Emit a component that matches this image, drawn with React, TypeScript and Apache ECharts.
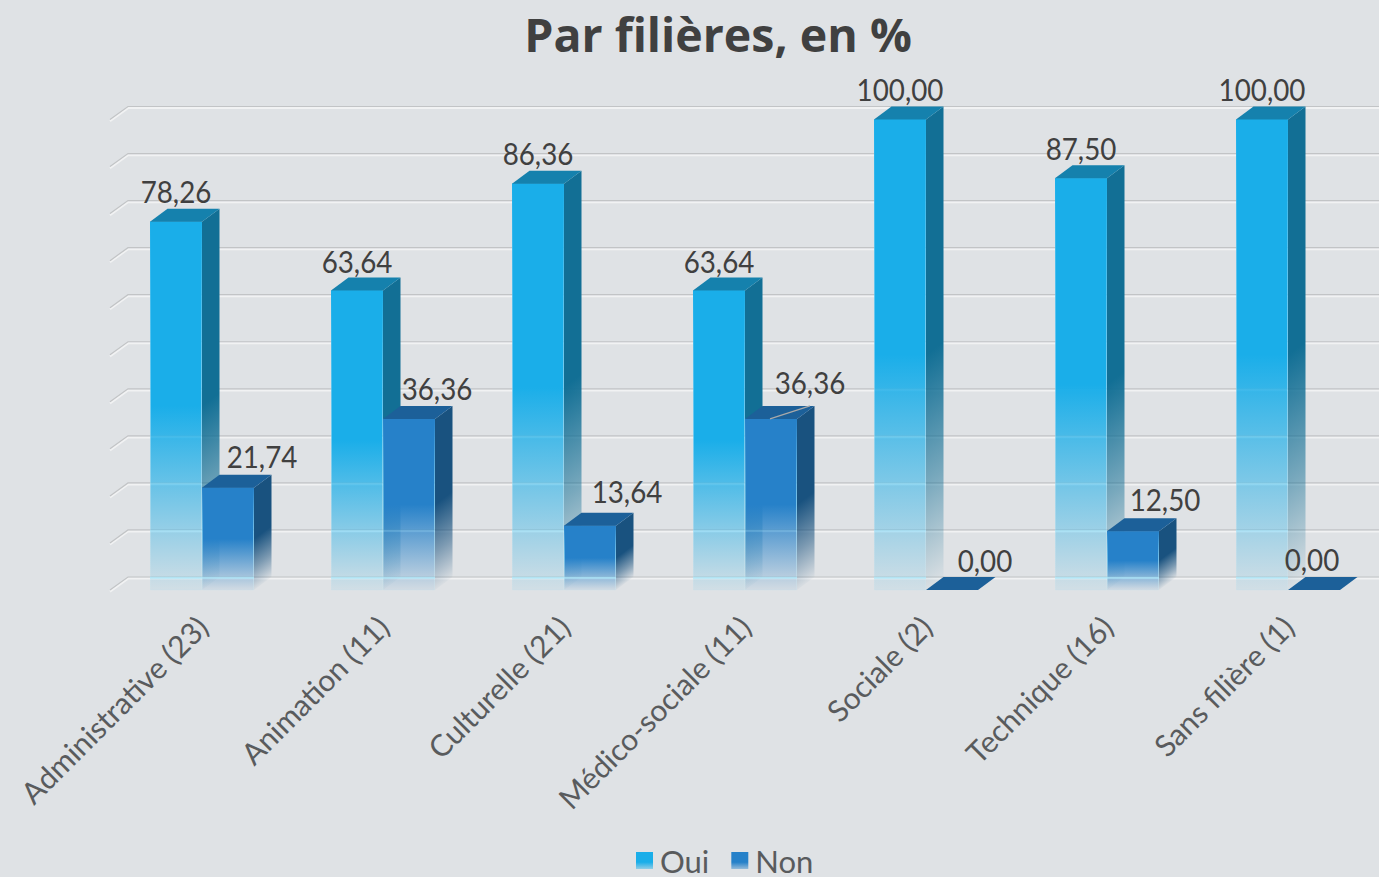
import React, { useEffect, useRef } from "react";
import * as echarts from "echarts";

const categories = ["Administrative (23)", "Animation (11)", "Culturelle (21)", "Médico-sociale (11)", "Sociale (2)", "Technique (16)", "Sans filière (1)"];
const ouiValues = [78.26, 63.64, 86.36, 63.64, 100, 87.5, 100];
const nonValues = [21.74, 36.36, 13.64, 36.36, 0, 12.5, 0];
const gridValues = [0, 10, 20, 30, 40, 50, 60, 70, 80, 90, 100];

// layout of the value labels relative to the top of the front face: [dx, dy]
const ouiLabelOffsets = [[0, -31], [0, -30], [0, -31], [0, -30], [0, -31], [0, -30], [0, -31]];
const nonLabelOffsets = [[34, -32], [28, -31], [37, -35], [39, -37], [33, -30], [32, -32], [-2, -31]];

const BAR_W = 52;
const DX = 17.5;
const DY = 13;

const hex = (c: string, a: number) => {
  const n = parseInt(c.slice(1), 16);
  return `rgba(${n >> 16},${(n >> 8) & 255},${n & 255},${a})`;
};
const fade = (c: string, end: number, mid = 0.5) =>
  new echarts.graphic.LinearGradient(0, 0, 0, 1, [
    { offset: 0, color: hex(c, 1) },
    { offset: mid, color: hex(c, 1) },
    { offset: 1, color: hex(c, end) },
  ]);

function barRenderer(front: string, side: string, top: string, xShift: number, offsets: number[][], leader: number) {
  return (params: any, api: any) => {
    const i = api.value(0);
    const v = api.value(1);
    const [cx, yTop] = api.coord([i, v]);
    const [, yBot] = api.coord([i, 0]);
    const x0 = cx + xShift;
    const x1 = x0 + BAR_W;
    const children: any[] = [];
    if (yBot - yTop > 0.5) {
      // the side face fades along the slant of its own bottom edge
      const mid0 = (yTop + yBot) / 2;
      const norm = Math.hypot(DX, DY);
      const nx = DY / norm;
      const ny = DX / norm;
      const reach = (yBot - mid0) * ny;
      children.push({
        type: "polygon",
        shape: { points: [[x1, yTop], [x1 + DX, yTop - DY], [x1 + DX, yBot - DY], [x1, yBot]] },
        style: {
          fill: new echarts.graphic.LinearGradient(
            x1,
            mid0,
            x1 + reach * nx,
            mid0 + reach * ny,
            [
              { offset: 0, color: hex(side, 1) },
              { offset: 0.55, color: hex(side, 0.5) },
              { offset: 1, color: hex(side, 0.03) },
            ],
            true
          ),
        },
      });
      children.push({
        type: "rect",
        shape: { x: x0 + 0.5, y: yTop, width: BAR_W - 1, height: yBot - yTop },
        style: {
          fill: fade(front, 0.07),
          stroke: new echarts.graphic.LinearGradient(0, 0, 0, 1, [
            { offset: 0, color: hex(front, 1) },
            { offset: 0.5, color: "rgba(110,205,245,0.55)" },
            { offset: 1, color: "rgba(150,220,245,0.1)" },
          ]),
          lineWidth: 1,
        },
      });
      // gridlines glowing through the faded lower half of the face
      const mid = (yTop + yBot) / 2;
      gridValues.forEach((g) => {
        const yLine = api.coord([i, g])[1] - DY;
        if (yLine > mid && yLine < yBot) {
          const a = 0.75 * Math.min(1, (yLine - mid) / (yBot - DY - mid));
          children.push({
            type: "line",
            shape: { x1: x0, y1: yLine + 0.7, x2: x1, y2: yLine + 0.7 },
            style: { stroke: `rgba(175,232,250,${a})`, lineWidth: 2 },
          });
        }
      });
    }
    children.push({
      type: "polygon",
      shape: { points: [[x0, yTop], [x0 + DX, yTop - DY], [x1 + DX, yTop - DY], [x1, yTop]] },
      style: { fill: top },
    });
    const off = offsets[i];
    if (i === leader) {
      children.push({
        type: "line",
        shape: { x1: x0 + 25, y1: yTop, x2: x0 + 65, y2: yTop - 13 },
        style: { stroke: "#a9a9a9", lineWidth: 1.2 },
      });
    }
    children.push({
      type: "text",
      x: x0 + BAR_W / 2 + off[0],
      y: yTop + off[1],
      scaleX: 0.896,
      style: {
        text: v.toFixed(2).replace(".", ","),
        fill: "#404040",
        font: "31px Lato",
        align: "center",
        verticalAlign: "middle",
      },
    });
    return { type: "group", children };
  };
}

function gridRenderer(params: any, api: any) {
  const [, y] = api.coord([0, api.value(1)]);
  const left = params.coordSys.x - 1.5;
  const right = params.coordSys.x + params.coordSys.width + 1;
  const pts = (d: number) => [[left, y + d], [left + 18, y - 13 + d], [right, y - 13 + d]];
  return {
    type: "group",
    children: [
      { type: "polyline", shape: { points: pts(1.6) }, style: { stroke: "#f1f2f3", lineWidth: 2, fill: "none" } },
      { type: "polyline", shape: { points: pts(0) }, style: { stroke: "#c2c4c6", lineWidth: 1.2, fill: "none" } },
    ],
  };
}

export default function App() {
  const ref = useRef<HTMLDivElement>(null);
  useEffect(() => {
    const chart = echarts.init(ref.current!, undefined, { renderer: "svg" });
    chart.setOption({
      animation: false,
      backgroundColor: "#dfe2e5",
      title: {
        text: "Par filières, en %",
        left: 713,
        top: 5,
        textAlign: "center",
        textStyle: { fontFamily: "Open Sans", fontWeight: "bold", fontSize: 46.5, color: "#404040" },
      },
      legend: {
        data: [
          { name: "Oui", icon: "rect", itemStyle: { color: fade("#1aaee9", 0.4, 0.6) } },
          { name: "Non", icon: "rect", itemStyle: { color: fade("#2681c9", 0.4, 0.6) } },
        ],
        left: 636,
        top: 845,
        padding: 0,
        itemWidth: 17,
        itemHeight: 17,
        itemGap: 22,
        selectedMode: false,
        textStyle: { fontFamily: "Lato", fontSize: 31, lineHeight: 29, padding: [0, 0, 0, 2], color: "#595b5d" },
      },
      grid: { left: 111.5, right: 0.5, top: 119.5, bottom: 287, containLabel: false },
      xAxis: {
        type: "category",
        data: categories,
        axisLine: { show: false },
        axisTick: { show: false },
        axisLabel: { rotate: 45, interval: 0, margin: 31, fontFamily: "Lato", fontSize: 30, color: "#595b5d" },
      },
      yAxis: {
        type: "value",
        min: 0,
        max: 100,
        interval: 10,
        axisLine: { show: false },
        axisTick: { show: false },
        axisLabel: { show: false },
        splitLine: { show: false },
      },
      series: [
        { type: "custom", name: "grid", silent: true, encode: { x: 0, y: 1 }, data: gridValues.map((v) => [0, v]), renderItem: gridRenderer },
        {
          type: "custom",
          name: "Oui",
          silent: true,
          encode: { x: 0, y: 1 },
          itemStyle: { color: "#1aaee9" },
          data: ouiValues.map((v, i) => [i, v]),
          renderItem: barRenderer("#1aaee9", "#126f95", "#1581ad", -BAR_W, ouiLabelOffsets, -1),
        },
        {
          type: "custom",
          name: "Non",
          silent: true,
          encode: { x: 0, y: 1 },
          itemStyle: { color: "#2681c9" },
          data: nonValues.map((v, i) => [i, v]),
          renderItem: barRenderer("#2681c9", "#19527f", "#1c6099", 0, nonLabelOffsets, 3),
        },
      ],
    });
    return () => chart.dispose();
  }, []);
  return <div ref={ref} style={{ position: "absolute", left: 0, top: 0, width: 1379, height: 877 }} />;
}
